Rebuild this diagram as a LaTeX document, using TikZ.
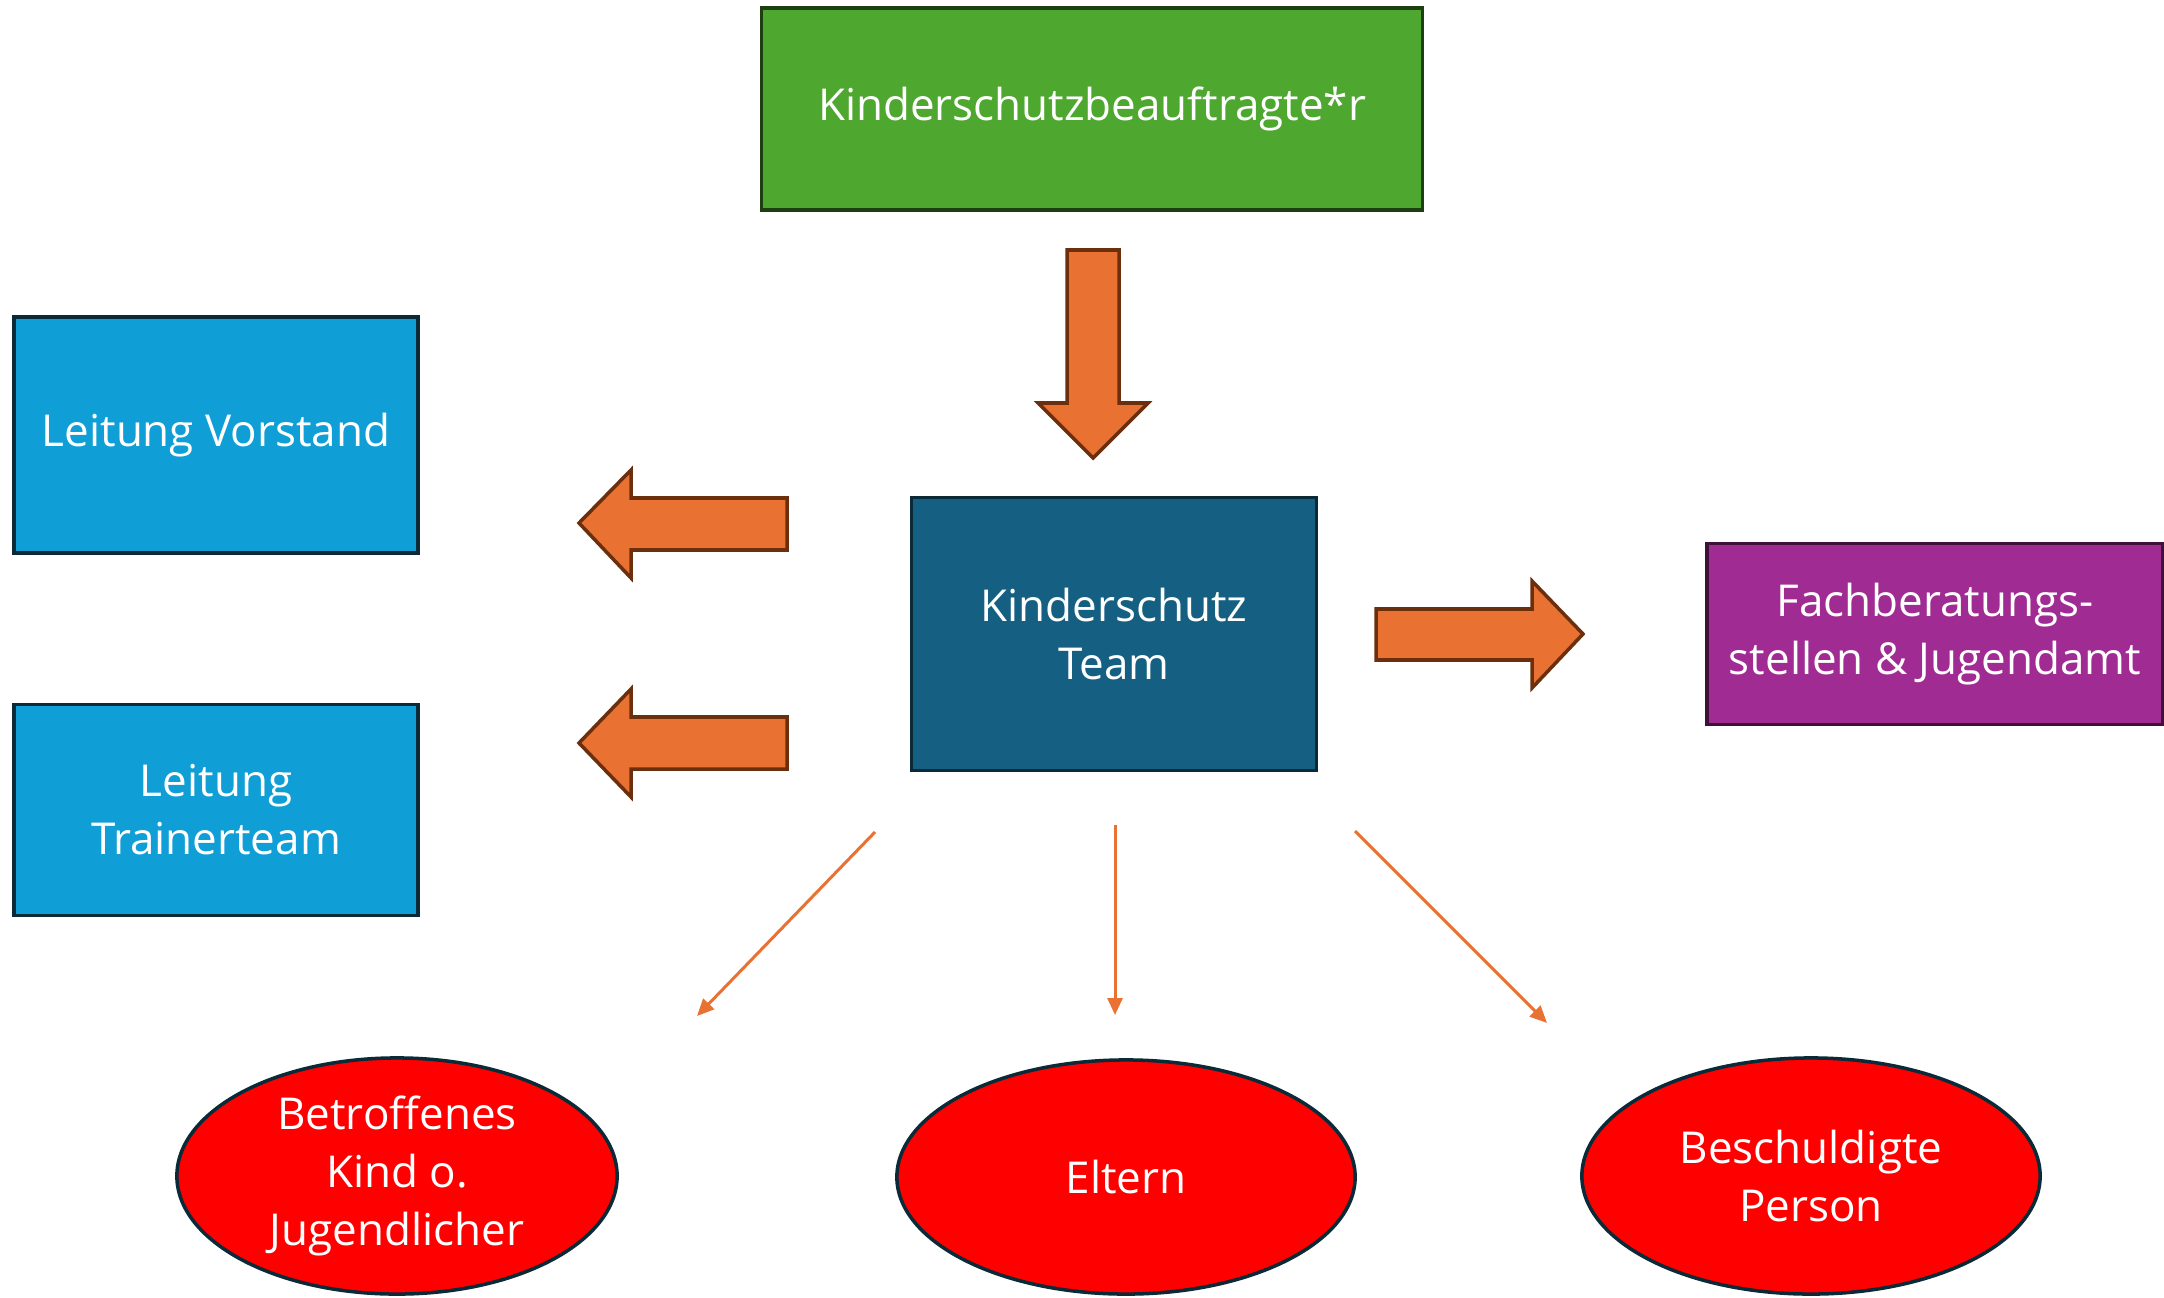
\documentclass[tikz,border=0pt]{standalone}
\usepackage{fontspec}
\setmainfont{Open Sans}
\usetikzlibrary{arrows.meta, shapes.geometric}

\definecolor{kgreen}{HTML}{4EA72E}
\definecolor{kgreenD}{HTML}{1E3F12}
\definecolor{kblue}{HTML}{0F9ED5}
\definecolor{kteam}{HTML}{156082}
\definecolor{knavy}{HTML}{0A2A38}
\definecolor{kpurple}{HTML}{A02B93}
\definecolor{kpurpleD}{HTML}{3F1138}
\definecolor{korange}{HTML}{E97132}
\definecolor{korangeD}{HTML}{6B2F0E}

\tikzset{
  box/.style = {draw, line width = 1pt, text = white, align = center,
    font = \fontsize{12.5}{16.5}\selectfont, inner sep = 0pt},
  oval/.style = {box, ellipse, fill = red, draw = knavy},
  blockarr/.style = {draw = korangeD, fill = korange, line width = 1pt, line join = miter},
  thinarr/.style = {draw = korange, line width = 0.85pt, -{Triangle[length = 1.7mm, width = 1.5mm]}}
}

\begin{document}
\begin{tikzpicture}[x = 0.01cm, y = -0.01cm]
\useasboundingbox (0,0) rectangle (2164,1297);

\node[box, fill = kgreen, draw = kgreenD, minimum width = 6.61cm, minimum height = 2.02cm] (KSB) at (1092,109) {Kinderschutzbeauftragte*r};
\node[box, fill = kblue, draw = knavy, minimum width = 4.04cm, minimum height = 2.36cm] (LV) at (216,435) {Leitung Vorstand};
\node[box, fill = kblue, draw = knavy, minimum width = 4.04cm, minimum height = 2.11cm] (LT) at (216,810) {Leitung\\Trainerteam};
\node[box, fill = kteam, draw = knavy, minimum width = 4.05cm, minimum height = 2.73cm] (KT) at (1114,634) {Kinderschutz\\Team};
\node[box, fill = kpurple, draw = kpurpleD, minimum width = 4.56cm, minimum height = 1.81cm] (FB) at (1935,634) {Fachberatungs-\\stellen \& Jugendamt};

\node[oval, minimum width = 4.40cm, minimum height = 2.36cm] (BK) at (397,1176) {Betroffenes\\Kind o.\\Jugendlicher};
\node[oval, minimum width = 4.58cm, minimum height = 2.34cm] (EL) at (1126,1177) {Eltern};
\node[oval, minimum width = 4.58cm, minimum height = 2.36cm] (BP) at (1811,1176) {Beschuldigte\\Person};

% Blockpfeile
\draw[blockarr] (1067,250) -- (1119,250) -- (1119,403) -- (1148,403) -- (1093,458) -- (1038,403) -- (1067,403) -- cycle;
\draw[blockarr] (787,498) -- (631,498) -- (631,470) -- (579,523) -- (631,578) -- (631,550) -- (787,550) -- cycle;
\draw[blockarr] (787,717) -- (631,717) -- (631,689) -- (579,743) -- (631,797) -- (631,769) -- (787,769) -- cycle;
\draw[blockarr] (1376,609) -- (1532,609) -- (1532,581) -- (1583,634) -- (1532,688) -- (1532,660) -- (1376,660) -- cycle;

% duenne Pfeile
\coordinate (S1) at (875,832);
\coordinate (E1) at (697,1016);
\coordinate (S2) at (1115,825);
\coordinate (E2) at (1115,1015);
\coordinate (S3) at (1355,831);
\coordinate (E3) at (1547,1023);
\draw[thinarr] (S1) -- (E1);
\draw[thinarr] (S2) -- (E2);
\draw[thinarr] (S3) -- (E3);
\end{tikzpicture}
\end{document}
